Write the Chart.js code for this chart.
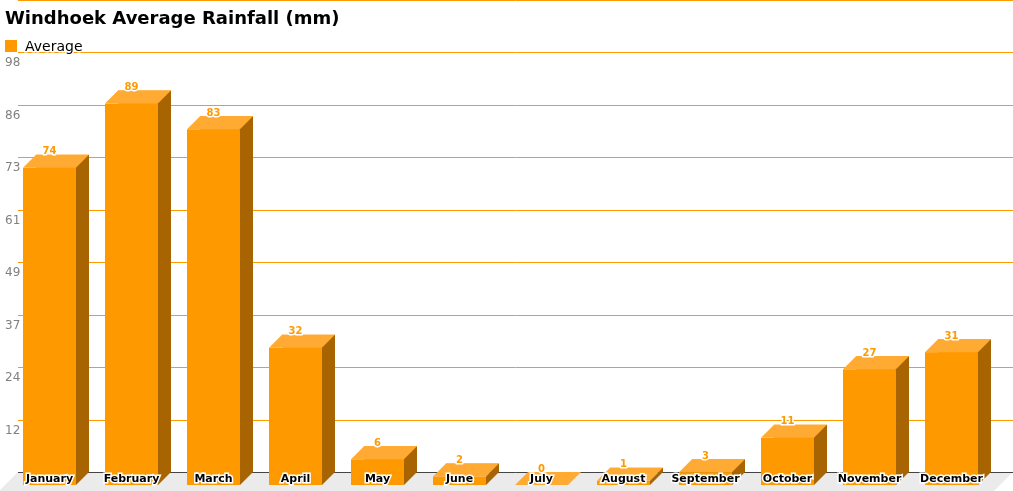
<!DOCTYPE html>
<html>
<head>
<meta charset="utf-8">
<script src="https://cdn.jsdelivr.net/npm/chart.js@4/dist/chart.umd.min.js"></script>
<style>
  html, body { margin: 0; padding: 0; background: #fff; }
  canvas { display: block; }
</style>
</head>
<body>
<canvas id="chart" width="1013" height="491"></canvas>
<script>
const months = ['January', 'February', 'March', 'April', 'May', 'June', 'July', 'August', 'September', 'October', 'November', 'December'];
const rainfall = [74, 89, 83, 32, 6, 2, 0, 1, 3, 11, 27, 31];
const yTickLabels = ['', '12', '24', '37', '49', '61', '73', '86', '98'];

const depth = 13;
const font = "'DejaVu Sans', Verdana, sans-serif";

// floor, grid and the 3d faces of the bars, built from the bar elements
const bars3d = {
  id: 'bars3d',
  beforeDatasetsDraw(chart) {
    const ctx = chart.ctx;
    const y = chart.scales.y;
    const base = y.getPixelForValue(0);
    const h = chart.height;
    ctx.save();
    // floor
    ctx.fillStyle = '#ebebeb';
    ctx.beginPath();
    ctx.moveTo(18, base);
    ctx.lineTo(chart.width, base);
    ctx.lineTo(chart.width - (h - base), h);
    ctx.lineTo(18 - (h - base), h);
    ctx.closePath();
    ctx.fill();
    // grid lines run the full width
    ctx.strokeStyle = '#ff9900';
    ctx.lineWidth = 1;
    y.ticks.forEach(t => {
      const py = Math.round(y.getPixelForValue(t.value)) + 0.5;
      ctx.beginPath();
      ctx.moveTo(18, py);
      ctx.lineTo(chart.width, py);
      ctx.stroke();
    });
    // axis line
    ctx.strokeStyle = '#444';
    ctx.beginPath();
    ctx.moveTo(18, Math.round(base) + 0.5);
    ctx.lineTo(chart.width, Math.round(base) + 0.5);
    ctx.stroke();
    // top rule
    ctx.strokeStyle = '#ff9900';
    ctx.beginPath();
    ctx.moveTo(18, 0.5);
    ctx.lineTo(chart.width, 0.5);
    ctx.stroke();
    ctx.restore();
  },
  afterDatasetsDraw(chart) {
    const ctx = chart.ctx;
    const meta = chart.getDatasetMeta(0);
    ctx.save();
    meta.data.forEach(el => {
      const w = el.width;
      const fl = el.x - w / 2 - depth;
      const top = el.y;
      const base = el.base;
      ctx.fillStyle = '#ff9900';
      ctx.fillRect(fl, top + depth, w, base - top);
      ctx.fillStyle = '#ffaa33';
      ctx.beginPath();
      ctx.moveTo(fl, top + depth);
      ctx.lineTo(fl + depth, top);
      ctx.lineTo(fl + depth + w, top);
      ctx.lineTo(fl + w, top + depth);
      ctx.closePath();
      ctx.fill();
      ctx.fillStyle = '#a86400';
      ctx.beginPath();
      ctx.moveTo(fl + w, top + depth);
      ctx.lineTo(fl + w + depth, top);
      ctx.lineTo(fl + w + depth, base);
      ctx.lineTo(fl + w, base + depth);
      ctx.closePath();
      ctx.fill();
    });
    // value labels
    ctx.font = 'bold 10px ' + font;
    ctx.textAlign = 'center';
    ctx.textBaseline = 'middle';
    ctx.lineJoin = 'round';
    meta.data.forEach((el, i) => {
      const cx = el.x - depth;
      const txt = String(rainfall[i]);
      ctx.strokeStyle = '#fff';
      ctx.lineWidth = 3;
      ctx.strokeText(txt, cx, el.y - 3);
      ctx.fillStyle = '#ff9900';
      ctx.fillText(txt, cx, el.y - 3);
    });
    ctx.restore();
  },
  afterDraw(chart) {
    // legend
    const ctx = chart.ctx;
    const ds = chart.data.datasets[0];
    ctx.save();
    ctx.fillStyle = ds.backgroundColor;
    ctx.fillRect(5, 40, 12, 12);
    ctx.font = '14px ' + font;
    ctx.textAlign = 'left';
    ctx.textBaseline = 'alphabetic';
    ctx.lineJoin = 'round';
    ctx.strokeStyle = '#fff';
    ctx.lineWidth = 3;
    ctx.strokeText(ds.label, 25, 51);
    ctx.fillStyle = '#000';
    ctx.fillText(ds.label, 25, 51);
    ctx.restore();
  }
};

new Chart(document.getElementById('chart'), {
  type: 'bar',
  data: {
    labels: months,
    datasets: [{
      label: 'Average',
      data: rainfall,
      backgroundColor: '#ff9900',
      borderWidth: 0,
      barPercentage: 53 / 82,
      categoryPercentage: 1
    }]
  },
  options: {
    responsive: false,
    animation: false,
    devicePixelRatio: 1,
    layout: { padding: { left: 5, right: 7.5, top: 0, bottom: 0 } },
    plugins: {
      legend: { display: false },
      tooltip: { enabled: false },
      title: {
        display: true,
        text: 'Windhoek Average Rainfall (mm)',
        align: 'start',
        color: '#000',
        font: { family: font, size: 18, weight: 'bold' },
        padding: { top: 9, bottom: 21.4 }
      }
    },
    scales: {
      x: {
        grid: { display: false, drawTicks: false },
        border: { display: false },
        ticks: {
          z: 1,
          color: '#000',
          font: { family: font, size: 11, weight: 'bold' },
          textStrokeColor: '#fff',
          textStrokeWidth: 3,
          labelOffset: -depth,
          padding: 1,
          maxRotation: 0,
          autoSkip: false
        },
        afterFit(scale) { scale.height = 19; }
      },
      y: {
        min: 0,
        max: 98,
        grid: { display: false, drawTicks: false },
        border: { display: false },
        ticks: {
          stepSize: 12.25,
          color: '#808080',
          font: { family: font, size: 12 },
          crossAlign: 'far',
          labelOffset: 11,
          padding: 0,
          callback: (v, i) => yTickLabels[i]
        },
        afterFit(scale) { scale.width = 16.5; }
      }
    }
  },
  plugins: [bars3d]
});
</script>
</body>
</html>
